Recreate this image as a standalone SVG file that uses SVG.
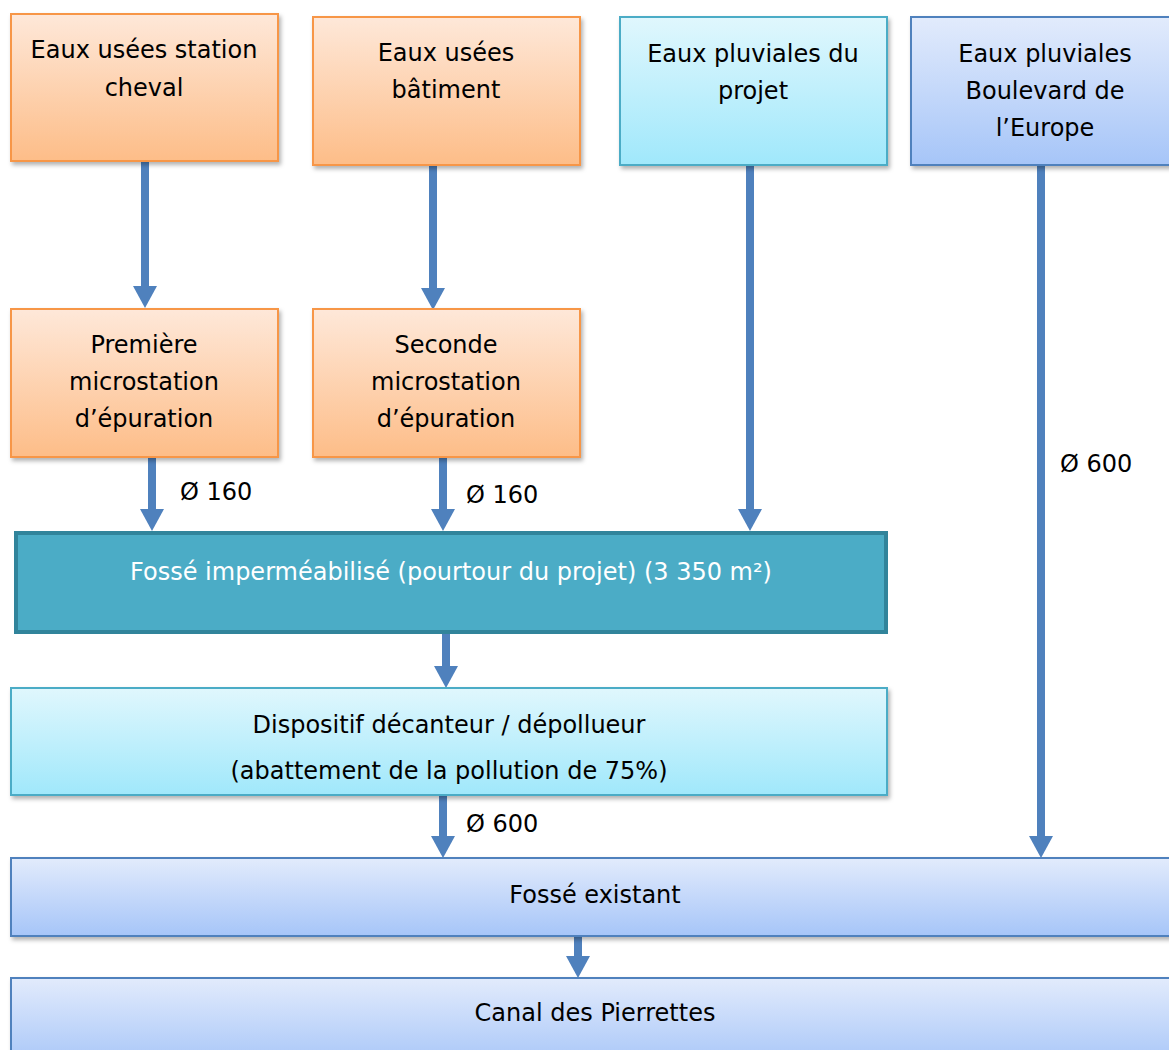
<svg xmlns="http://www.w3.org/2000/svg" width="1169" height="1050" viewBox="0 0 1169 1050">
<defs>
<linearGradient id="gOr" x1="0" y1="0" x2="0" y2="1"><stop offset="0" stop-color="#fee8d9"/><stop offset="1" stop-color="#fdbd88"/></linearGradient>
<linearGradient id="gCy" x1="0" y1="0" x2="0" y2="1"><stop offset="0" stop-color="#e0f7fd"/><stop offset="1" stop-color="#a0e8fb"/></linearGradient>
<linearGradient id="gBl" x1="0" y1="0" x2="0" y2="1"><stop offset="0" stop-color="#e2ebfc"/><stop offset="1" stop-color="#a6c5f8"/></linearGradient>
<filter id="sh" x="-5%" y="-5%" width="115%" height="130%"><feDropShadow dx="2" dy="3" stdDeviation="2" flood-color="#000" flood-opacity="0.3"/></filter>
<marker id="ah" markerUnits="userSpaceOnUse" markerWidth="22" markerHeight="24" refX="0" refY="12" orient="auto" viewBox="0 0 22 24"><path d="M0,0 L22,12 L0,24 Z" fill="#4f81bd"/></marker>
<style>
.t{font-family:"DejaVu Sans",sans-serif;font-size:24px;fill:#000;text-anchor:middle}
.w{fill:#fff}
.or{fill:url(#gOr);stroke:#f79646;stroke-width:2;filter:url(#sh)}
.cy{fill:url(#gCy);stroke:#4bacc6;stroke-width:2;filter:url(#sh)}
.bl{fill:url(#gBl);stroke:#4f81bd;stroke-width:2;filter:url(#sh)}
.c{stroke:#4f81bd;stroke-width:8;fill:none;marker-end:url(#ah)}
.lb{font-family:"DejaVu Sans",sans-serif;font-size:24px;fill:#000}
</style>
</defs>
<g id="connectors">
<line class="c" x1="145" y1="162" x2="145" y2="286"/>
<line class="c" x1="433" y1="166" x2="433" y2="288"/>
<line class="c" x1="750" y1="166" x2="750" y2="509"/>
<line class="c" x1="1041" y1="166" x2="1041" y2="836"/>
<line class="c" x1="152" y1="458" x2="152" y2="509"/>
<line class="c" x1="443" y1="458" x2="443" y2="509"/>
<line class="c" x1="446" y1="634" x2="446" y2="666"/>
<line class="c" x1="443" y1="796" x2="443" y2="836"/>
<line class="c" x1="578" y1="937" x2="578" y2="956"/>
<text class="lb" x="180" y="500">Ø 160</text>
<text class="lb" x="466" y="503">Ø 160</text>
<text class="lb" x="1060" y="472">Ø 600</text>
<text class="lb" x="466" y="832">Ø 600</text>
</g>
<g id="n1"><rect class="or" x="11" y="14" width="267" height="147"/><text class="t" x="144" y="58">Eaux usées station</text><text class="t" x="144" y="96">cheval</text></g>
<g id="n2"><rect class="or" x="313" y="17" width="267" height="148"/><text class="t" x="446" y="61">Eaux usées</text><text class="t" x="446" y="98">bâtiment</text></g>
<g id="n3"><rect class="cy" x="620" y="17" width="267" height="148"/><text class="t" x="753" y="62">Eaux pluviales du</text><text class="t" x="753" y="99">projet</text></g>
<g id="n4"><rect class="bl" x="911" y="17" width="270" height="148"/><text class="t" x="1045" y="62">Eaux pluviales</text><text class="t" x="1045" y="99">Boulevard de</text><text class="t" x="1045" y="136">l’Europe</text></g>
<g id="n5"><rect class="or" x="11" y="309" width="267" height="148"/><text class="t" x="144" y="353">Première</text><text class="t" x="144" y="390">microstation</text><text class="t" x="144" y="427">d’épuration</text></g>
<g id="n6"><rect class="or" x="313" y="309" width="267" height="148"/><text class="t" x="446" y="353">Seconde</text><text class="t" x="446" y="390">microstation</text><text class="t" x="446" y="427">d’épuration</text></g>
<g id="n7"><rect x="16" y="533" width="870" height="99" fill="#4bacc6" stroke="#31849b" stroke-width="4"/><text class="t w" x="451" y="580">Fossé imperméabilisé (pourtour du projet) (3 350 m²)</text></g>
<g id="n8"><rect class="cy" x="11" y="688" width="876" height="107"/><text class="t" x="449" y="733">Dispositif décanteur / dépollueur</text><text class="t" x="449" y="779">(abattement de la pollution de 75%)</text></g>
<g id="n9"><rect class="bl" x="11" y="858" width="1170" height="78"/><text class="t" x="595" y="903">Fossé existant</text></g>
<g id="n10"><rect class="bl" x="11" y="978" width="1170" height="90"/><text class="t" x="595" y="1021">Canal des Pierrettes</text></g>
</svg>
